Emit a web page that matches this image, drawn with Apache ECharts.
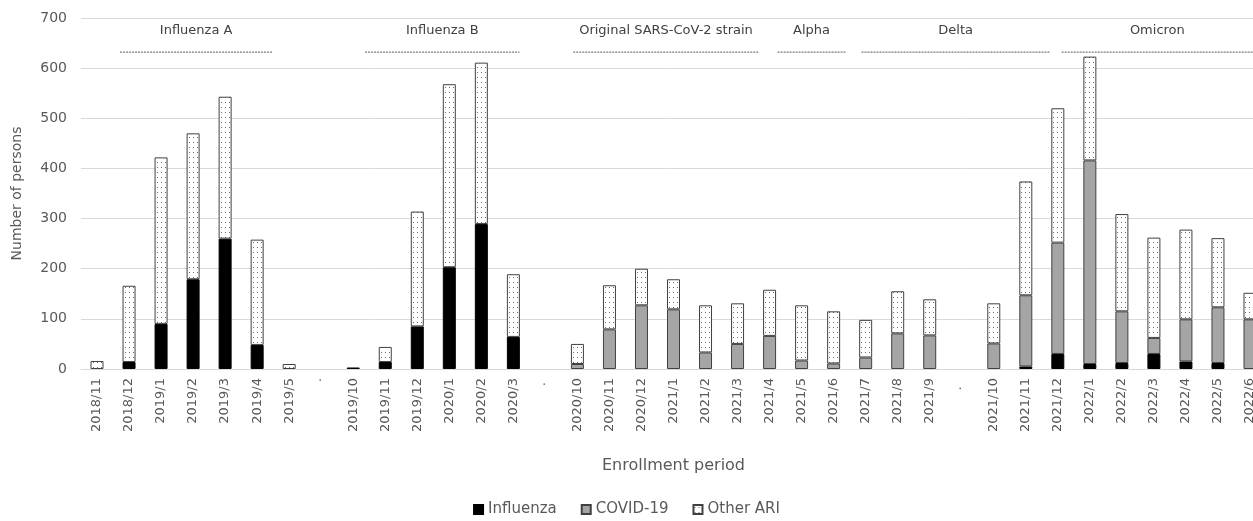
<!DOCTYPE html>
<html>
<head>
<meta charset="utf-8">
<script src="https://cdn.jsdelivr.net/npm/echarts@6/dist/echarts.min.js"></script>
<style>
html,body{margin:0;padding:0;background:#fff;}
#chart{width:1253px;height:521px;}
</style>
</head>
<body>
<div id="chart"></div>
<script>
// ---- data ----
const categories = ['2018/11','2018/12','2019/1','2019/2','2019/3','2019/4','2019/5','·',
  '2019/10','2019/11','2019/12','2020/1','2020/2','2020/3','· ',
  '2020/10','2020/11','2020/12','2021/1','2021/2','2021/3','2021/4','2021/5','2021/6','2021/7','2021/8','2021/9','·  ',
  '2021/10','2021/11','2021/12','2022/1','2022/2','2022/3','2022/4','2022/5','2022/6'];
const influenza = [0,14,90,179,260,48,0, null, 3,14,85,203,289,64, null,
  0,0,0,0,0,0,0,0,0,0,0,0, null, 0,5,30,10,12,30,15,12,0];
const covid19 = [0,0,0,0,0,0,0, null, 0,0,0,0,0,0, null,
  10,79,127,119,33,50,66,17,11,23,71,67, null, 51,142,222,406,103,32,84,111,99];
const otherARI = [16,152,332,291,283,210,10, null, 0,30,229,365,322,125, null,
  40,88,73,60,94,81,92,110,104,75,84,72, null, 80,227,268,207,194,200,179,138,53];
const yTicks = [0,100,200,300,400,500,600,700];
const periodNames = ['Influenza A','Influenza B','Original SARS-CoV-2 strain','Alpha','Delta','Omicron'];

// ---- layout (band fractions for period brackets) ----
const periodSpans = [[1.22,5.97],[8.87,13.69],[15.37,21.16],[21.75,23.87],[24.37,30.25],[30.62,37.2]];

function zeroToDash(arr){ return arr.map(v => (v === null || v === 0) ? '-' : v); }

// dotted pattern
const pat = document.createElement('canvas');
pat.width = 4; pat.height = 5;
const pctx = pat.getContext('2d');
pctx.fillStyle = '#ffffff'; pctx.fillRect(0,0,4,5);
pctx.fillStyle = '#6a6a6a'; pctx.fillRect(1,2,1,1);

const chart = echarts.init(document.getElementById('chart'));
const FONT = '"DejaVu Sans", "Open Sans", sans-serif';
const option = {
  animation: false,
  backgroundColor: '#ffffff',
  textStyle: { fontFamily: FONT },
  grid: { left: 81, width: 1185, top: 18, bottom: 152, containLabel: false, outerBoundsMode: 'none' },
  legend: {
    bottom: -1, left: 'center',
    itemWidth: 9, itemHeight: 9, itemGap: 24, icon: 'rect',
    textStyle: { fontSize: 15, color: '#595959', fontFamily: FONT },
    data: ['Influenza','COVID-19','Other ARI']
  },
  xAxis: {
    type: 'category', data: categories,
    name: 'Enrollment period', nameLocation: 'middle', nameGap: 89,
    nameTextStyle: { fontSize: 16, color: '#595959', fontFamily: FONT },
    axisLine: { lineStyle: { color: '#d9d9d9' } },
    axisTick: { show: false },
    axisLabel: { rotate: 90, fontSize: 13, color: '#595959', interval: 0, margin: 9, fontFamily: FONT, hideOverlap: false }
  },
  yAxis: {
    type: 'value', min: yTicks[0], max: yTicks[yTicks.length-1], interval: 100,
    name: 'Number of persons', nameLocation: 'middle', nameGap: 57,
    nameTextStyle: { fontSize: 14, color: '#595959', fontFamily: FONT },
    axisLine: { show: false }, axisTick: { show: false },
    axisLabel: { fontSize: 14, color: '#595959', margin: 14, fontFamily: FONT },
    splitLine: { lineStyle: { color: '#d9d9d9', width: 1 } }
  },
  series: [
    { name: 'Influenza', type: 'bar', stack: 'a', barWidth: 13, data: zeroToDash(influenza),
      itemStyle: { color: '#000000', borderColor: '#000000', borderWidth: 1 } },
    { name: 'COVID-19', type: 'bar', stack: 'a', barWidth: 13, data: zeroToDash(covid19),
      itemStyle: { color: '#a5a5a5', borderColor: '#404040', borderWidth: 1 } },
    { name: 'Other ARI', type: 'bar', stack: 'a', barWidth: 13, data: zeroToDash(otherARI),
      itemStyle: { color: { image: pat, repeat: 'repeat' }, borderColor: '#404040', borderWidth: 1 } }
  ]
};
chart.setOption(option);

// period brackets positioned via axis scales
const c0 = chart.convertToPixel({ xAxisIndex: 0 }, 0);
const c1 = chart.convertToPixel({ xAxisIndex: 0 }, 1);
const band = c1 - c0;
const leftEdge = c0 - band / 2;
const yLine = chart.convertToPixel({ yAxisIndex: 0 }, 632);
const yText = chart.convertToPixel({ yAxisIndex: 0 }, 675);
const elements = [];
periodNames.forEach((name, i) => {
  const xa = leftEdge + periodSpans[i][0] * band;
  const xb = leftEdge + periodSpans[i][1] * band;
  elements.push({ type: 'line', silent: true,
    shape: { x1: xa, y1: yLine, x2: xb, y2: yLine },
    style: { stroke: '#595959', lineWidth: 1, lineDash: [2, 1] } });
  elements.push({ type: 'text', silent: true, x: (xa + Math.min(xb, 1253)) / 2, y: yText,
    style: { text: name, fill: '#404040', fontSize: 13, fontFamily: FONT, align: 'center', verticalAlign: 'middle' } });
});
chart.setOption({ graphic: { elements } });
</script>
</body>
</html>
